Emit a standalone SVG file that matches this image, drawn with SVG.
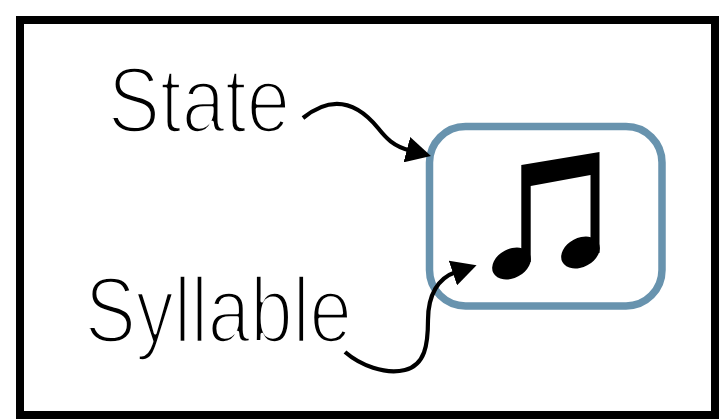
<svg xmlns="http://www.w3.org/2000/svg" width="719" height="419" viewBox="0 0 719 419">
<style>
.lbl{font-family:"Liberation Sans",Arial,Helvetica,sans-serif;font-weight:400;font-size:92px;fill:#000;stroke:#fff;stroke-width:3.6px;stroke-linejoin:round}
.conn{fill:none;stroke:#000;stroke-width:4.2;stroke-linecap:butt}
</style>
<defs>
<marker id="ah" markerUnits="userSpaceOnUse" markerWidth="26" markerHeight="26" viewBox="0 0 24 24" refX="3" refY="12" orient="auto">
<path d="M0,0 L23,12 L0,24 z" fill="#000"/>
</marker>
</defs>
<rect x="20" y="20" width="695" height="395" fill="#fff" stroke="#000" stroke-width="8"/>
<g id="state">
<text class="lbl" x="108" y="132" textLength="182" lengthAdjust="spacingAndGlyphs">State</text>
</g>
<g id="syllable">
<text class="lbl" x="85" y="342" textLength="267" lengthAdjust="spacingAndGlyphs">Syllable</text>
</g>
<g id="note">
<rect x="429.5" y="126.5" width="232.5" height="179.5" rx="36" ry="36" fill="none" stroke="#6893ae" stroke-width="7.5"/>
<path d="M521.3,165 L599.5,152 L599.5,253 L590.5,253 L590.5,175 L530.7,186 L530.7,262 L521.3,262 z" fill="#000"/>
<ellipse cx="511.5" cy="263.5" rx="20.5" ry="14.5" transform="rotate(-28 511.5 263.5)" fill="#000"/>
<ellipse cx="580.5" cy="252.5" rx="20.5" ry="14.5" transform="rotate(-28 580.5 252.5)" fill="#000"/>
</g>
<g id="connectors">
<path class="conn" d="M303,118 C335,92 360,106 378,128 C386,138 393,146 410,150.5" marker-end="url(#ah)"/>
<path class="conn" d="M345,352 C360,365 385,375 405,370 C425,365 428,345 428,320 C428,295 438,278 456,272" marker-end="url(#ah)"/>
</g>
</svg>
